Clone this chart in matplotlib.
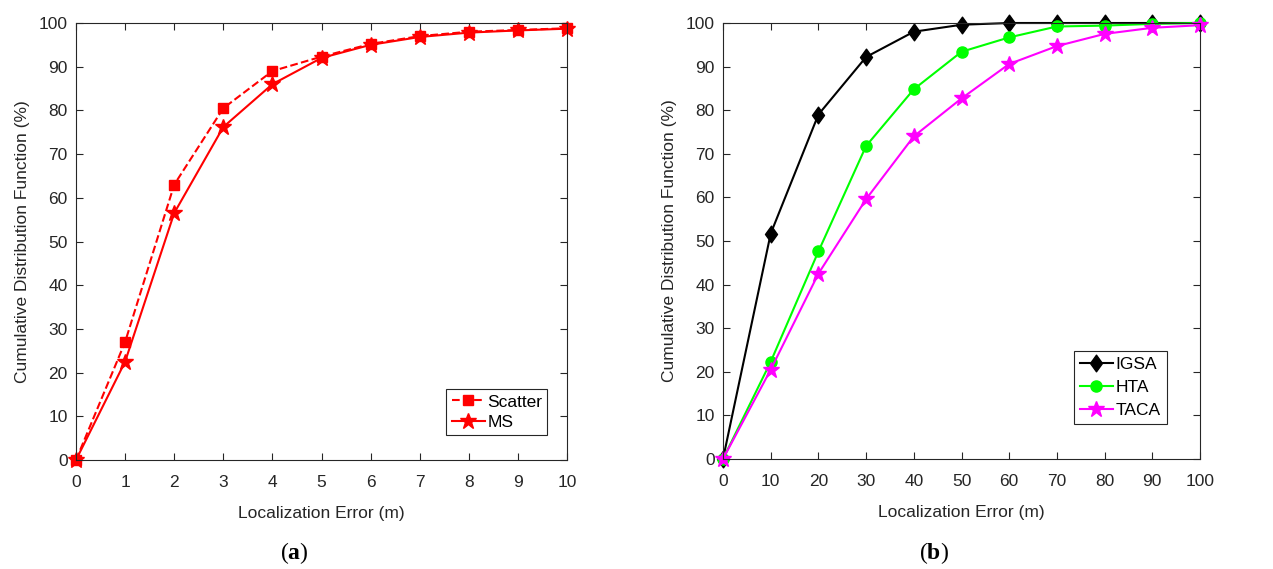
#!/usr/bin/env python3
# CDF of localization error for the two experiments, (a) and (b)
import matplotlib.pyplot as plt
from matplotlib.path import Path

plt.rcParams['font.family'] = ['Liberation Sans', 'DejaVu Sans']
plt.rcParams['mathtext.fontset'] = 'custom'
plt.rcParams['mathtext.rm'] = 'Liberation Serif'
plt.rcParams['mathtext.bf'] = 'Liberation Serif:bold'

# Panel (a) data
err_a = [0, 1, 2, 3, 4, 5, 6, 7, 8, 9, 10]
scatter = [0, 27, 63, 80.5, 89, 92.3, 95.2, 97, 98, 98.4, 98.8]
ms = [0, 22.5, 56.5, 76.2, 86, 92, 95, 96.8, 97.8, 98.3, 98.7]

# Panel (b) data
err_b = [0, 10, 20, 30, 40, 50, 60, 70, 80, 90, 100]
igsa = [0, 51.7, 79, 92.2, 98, 99.6, 100, 100, 100, 100, 100]
hta = [0, 22.3, 47.6, 71.8, 84.8, 93.4, 96.7, 99.2, 99.4, 99.8, 100]
taca = [0, 20.5, 42.5, 59.6, 74, 82.7, 90.6, 94.7, 97.5, 98.9, 99.5]

W, H = 1273, 569
fig = plt.figure(figsize=(W / 100, H / 100), dpi=100)

axc = '#262626'
txtc = '#262626'
fs = 12.5

# MATLAB-like diamond (a bit wider than matplotlib's 'd')
diamond = Path([(0, 1), (0.72, 0), (0, -1), (-0.72, 0), (0, 1)],
               [Path.MOVETO, Path.LINETO, Path.LINETO, Path.LINETO,
                Path.CLOSEPOLY])


def style(ax, xmax, xstep):
    ax.set_xlim(0, xmax)
    ax.set_ylim(0, 100)
    ax.set_xticks(range(0, xmax + 1, xstep))
    ax.set_yticks(range(0, 101, 10))
    ax.tick_params(direction='in', top=True, right=True, length=5,
                   width=0.8, color=axc, labelcolor=txtc, labelsize=fs)
    ax.tick_params(axis='x', pad=11)
    ax.tick_params(axis='y', pad=6)
    for s in ax.spines.values():
        s.set_color(axc)
        s.set_linewidth(0.8)
    ax.set_xlabel('Localization Error (m)', fontsize=fs, color=txtc,
                  labelpad=11)
    ax.set_ylabel('Cumulative Distribution Function (%)', fontsize=fs,
                  color=txtc, labelpad=6)


# left panel
ax1 = fig.add_axes([76 / W, 1 - 460 / H, (567 - 76) / W, (460 - 23) / H])
ax1.plot(err_a, scatter, '--', color='#ff0000', lw=1.5, marker='s', ms=7,
         label='Scatter', clip_on=False)
ax1.plot(err_a, ms, '-', color='#ff0000', lw=1.5, marker='*', ms=12,
         label='MS', clip_on=False)
style(ax1, 10, 1)
leg = ax1.legend(loc='lower right', bbox_to_anchor=(0.96, 0.057),
                 fontsize=fs, fancybox=False, framealpha=1,
                 edgecolor=axc, handlelength=1.9, handletextpad=0.15,
                 borderpad=0.3, labelspacing=0.3, borderaxespad=0)
leg.get_frame().set_linewidth(0.8)

# right panel
ax2 = fig.add_axes([723 / W, 1 - 459 / H, (1200 - 723) / W, (459 - 23) / H])
ax2.plot(err_b, igsa, '-', color='black', lw=1.5, marker=diamond, ms=12,
         label='IGSA', clip_on=False)
ax2.plot(err_b, hta, '-', color='#00ff00', lw=1.5, marker='o', ms=8,
         label='HTA', clip_on=False)
ax2.plot(err_b, taca, '-', color='#ff00ff', lw=1.5, marker='*', ms=12,
         label='TACA', clip_on=False)
style(ax2, 100, 10)
leg = ax2.legend(loc='lower right', bbox_to_anchor=(0.93, 0.08),
                 fontsize=fs, fancybox=False, framealpha=1,
                 edgecolor=axc, handlelength=1.9, handletextpad=0.15,
                 borderpad=0.35, labelspacing=0.45, borderaxespad=0)
leg.get_frame().set_linewidth(0.8)

# panel captions
fig.text(294 / W, 1 - 553 / H, r'$(\mathbf{a})$', fontsize=17,
         ha='center', va='center')
fig.text(934 / W, 1 - 553 / H, r'$(\mathbf{b})$', fontsize=17,
         ha='center', va='center')

fig.savefig('out.png', dpi=100)
